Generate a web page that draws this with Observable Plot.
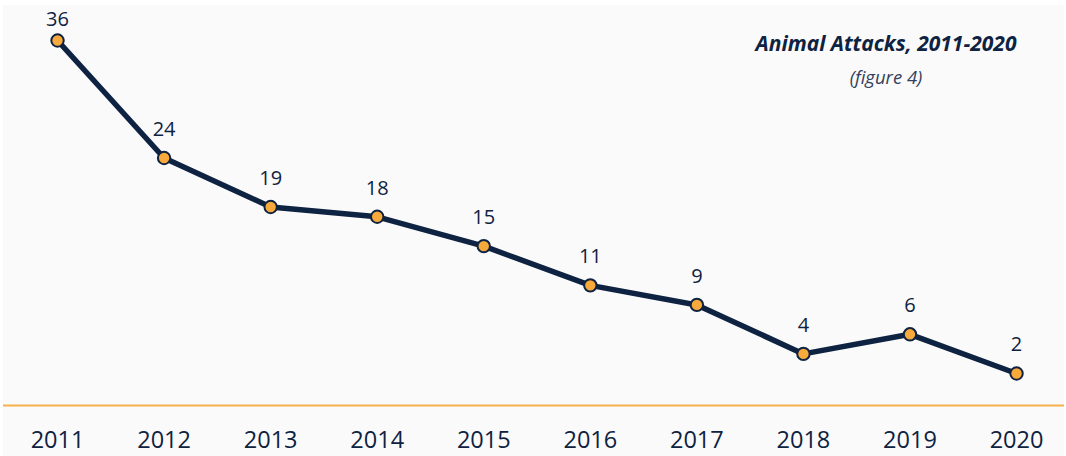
<!DOCTYPE html>
<html>
<head>
<meta charset="utf-8">
<script src="https://cdn.jsdelivr.net/npm/d3@7"></script>
<script src="https://cdn.jsdelivr.net/npm/@observablehq/plot@0.6"></script>
<style>
  html, body { margin: 0; padding: 0; background: #ffffff; }
  #wrap { position: relative; width: 1061px; height: 451px; margin: 5px 0 0 3px; background: #fafafa; }
  #title { position: absolute; left: 683px; width: 400px; top: 24px; text-align: center;
    font-family: "Open Sans", sans-serif; font-weight: bold; font-style: italic; font-size: 21px; color: #0e2241; line-height: 28px; }
  #subtitle { position: absolute; left: 683px; width: 400px; top: 60px; text-align: center;
    font-family: "Open Sans", sans-serif; font-style: italic; font-size: 18.5px; color: #33405c; line-height: 24px; }
  svg { display: block; }
</style>
</head>
<body>
<div id="wrap">
  <div id="chart"></div>
  <div id="title">Animal Attacks, 2011-2020</div>
  <div id="subtitle">(figure 4)</div>
</div>
<script>
const years = [2011, 2012, 2013, 2014, 2015, 2016, 2017, 2018, 2019, 2020];
const attacks = [36, 24, 19, 18, 15, 11, 9, 4, 6, 2];
const data = years.map((year, i) => ({year, value: attacks[i]}));
const maxValue = d3.max(attacks);

const navy = "#0e2241";
const orange = "#f8a93b";
const yMin = -1.27;

const chart = Plot.plot({
  width: 1061,
  height: 451,
  marginTop: 35,
  marginBottom: 51,
  marginLeft: 0,
  marginRight: 0,
  style: { background: "transparent", fontFamily: "Open Sans, sans-serif", color: navy, overflow: "visible" },
  x: { domain: [2010.493, 2020.45], label: null },
  y: { domain: [yMin, 36], axis: null },
  marks: [
    Plot.axisX({ ticks: years, tickFormat: d => String(d), tickSize: 0, tickPadding: 26, fontSize: 23.5, fill: navy, label: null }),
    Plot.ruleY([yMin], { stroke: "#f6b14d", strokeWidth: 2 }),
    Plot.line(data, { x: "year", y: "value", stroke: navy, strokeWidth: 5.5, strokeLinejoin: "round" }),
    Plot.dot(data, { x: "year", y: "value", r: 6.2, fill: orange, stroke: navy, strokeWidth: 2 }),
    Plot.text(data.filter(d => d.value !== maxValue), { x: "year", y: "value", text: d => String(d.value), dy: -22, lineAnchor: "bottom", fontSize: 20, fill: navy }),
    Plot.text(data.filter(d => d.value === maxValue), { x: "year", y: "value", text: d => String(d.value), dy: -15, lineAnchor: "bottom", fontSize: 20, fill: navy })
  ]
});
document.getElementById("chart").appendChild(chart);
</script>
</body>
</html>
